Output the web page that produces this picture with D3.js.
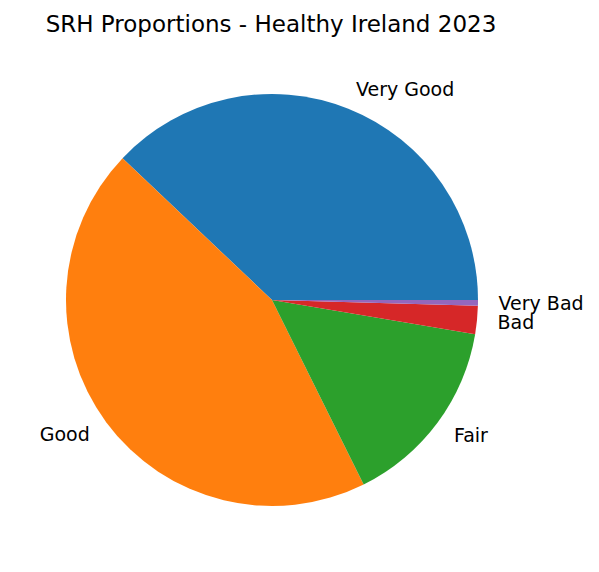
<!DOCTYPE html>
<html>
<head>
<meta charset="utf-8">
<script src="https://cdn.jsdelivr.net/npm/d3@7"></script>
<style>
  body { margin: 0; background: #fff; }
  text { font-family: "DejaVu Sans", sans-serif; fill: #000; }
</style>
</head>
<body>
<script>
// SRH categories and their share (percent)
const categories = ['Very Good', 'Good', 'Fair', 'Bad', 'Very Bad'];
const shares = [37.9, 44.4, 15.0, 2.2, 0.45];
const colours = ['#1f77b4', '#ff7f0e', '#2ca02c', '#d62728', '#9467bd'];
const title = 'SRH Proportions - Healthy Ireland 2023';

const W = 599, H = 572;
const CX = 272, CY = 300, R = 206;

const svg = d3.select('body')
              .append('svg')
                .attr('width', W)
                .attr('height', H);

svg.append('text')
    .attr('x', 271)
    .attr('y', 32)
    .attr('text-anchor', 'middle')
    .attr('font-size', '23px')
    .text(title);

const data = categories.map((c, i) => ({name: c, value: shares[i], colour: colours[i]}));

// matplotlib style: start at 3 o'clock, run counter-clockwise
const pie = d3.pie()
              .sort(null)
              .value(d => d.value)
              .startAngle(Math.PI / 2)
              .endAngle(Math.PI / 2 - 2 * Math.PI);

const arc = d3.arc().innerRadius(0).outerRadius(R);
const arcs = pie(data);

const g = svg.append('g').attr('transform', 'translate(' + CX + ',' + CY + ')');

g.selectAll('path.slice')
  .data(arcs)
  .enter()
  .append('path')
    .attr('class', 'slice')
    .attr('d', arc)
    .attr('fill', d => d.data.colour);

g.selectAll('text.label')
  .data(arcs)
  .enter()
  .append('text')
    .attr('class', 'label')
    .attr('font-size', '19px')
    .attr('dy', '0.35em')
    .attr('x', d => 1.1 * R * Math.sin((d.startAngle + d.endAngle) / 2))
    .attr('y', d => -1.1 * R * Math.cos((d.startAngle + d.endAngle) / 2))
    .attr('text-anchor', d => Math.sin((d.startAngle + d.endAngle) / 2) >= 0 ? 'start' : 'end')
    .text(d => d.data.name);
</script>
</body>
</html>
